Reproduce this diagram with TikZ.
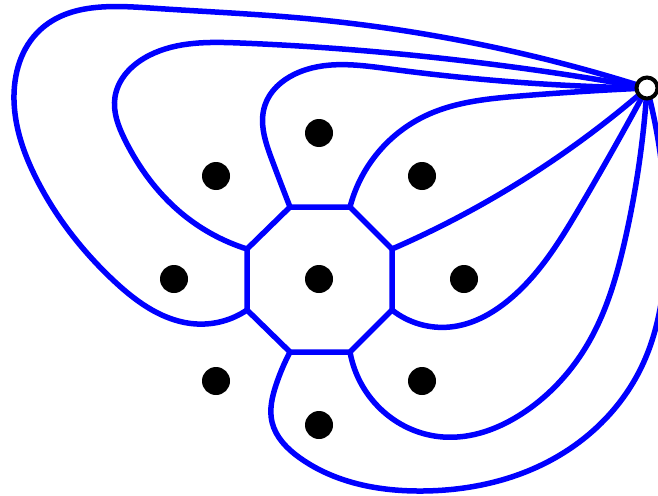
\documentclass[tikz,border=0pt]{standalone}
\usetikzlibrary{hobby}
\begin{document}
\begin{tikzpicture}[x=1pt,y=-1pt,
  edge/.style={draw=blue,line width=5.5pt,line join=round,line cap=round},
  dot/.style={circle,fill=black,inner sep=0pt,minimum size=28pt},
  sink/.style={circle,draw=black,fill=white,line width=4pt,inner sep=0pt,minimum size=21pt}]
\useasboundingbox (0,0) rectangle (658,495);
\clip (0,0) rectangle (658,495);
% octagon vertices
\coordinate (T1) at (290,207);
\coordinate (T2) at (350,207);
\coordinate (R1) at (392,249);
\coordinate (R2) at (392,310);
\coordinate (B2) at (350,352);
\coordinate (B1) at (290,352);
\coordinate (L2) at (247,310);
\coordinate (L1) at (247,249);
\coordinate (S) at (647,88);
% curves to the outer vertex
\draw[edge,use Hobby shortcut] (L2) .. (197,324) .. (113,280) .. (37,180) .. (14,100) .. (40,30) .. (150,8) .. (300,18) .. (S);
\draw[edge,use Hobby shortcut] (L1) .. (180,212) .. (125,140) .. (115,97) .. (150,55) .. (240,43) .. (400,54) .. (S);
\draw[edge,use Hobby shortcut] (T1) .. (272,160) .. (265,105) .. (295,74) .. (390,69) .. (S);
\draw[edge,use Hobby shortcut] (T2) .. (376,155) .. (425,116) .. (520,96) .. (S);
\draw[edge,use Hobby shortcut] (R1) .. (453,220) .. (575,145) .. (S);
\draw[edge,use Hobby shortcut] (R2) .. (450,327) .. (510,299) .. (580,207) .. (S);
\draw[edge,use Hobby shortcut] (B2) .. (385,413) .. (443,437) .. (523,413) .. (590,340) .. (625,240) .. (S);
\draw[edge,use Hobby shortcut] (B1) .. (276,385) .. (272,422) .. (300,458) .. (423,491) .. (560,455) .. (640,370) .. (666,240) .. (S);
% octagon
\draw[edge] (T1) -- (T2) -- (R1) -- (R2) -- (B2) -- (B1) -- (L2) -- (L1) -- cycle;
% dots
\node[dot] (c) at (319,279) {};
\node[dot] (n) at (319,133) {};
\node[dot] (nw) at (216,176) {};
\node[dot] (ne) at (422,176) {};
\node[dot] (w) at (174,279) {};
\node[dot] (e) at (464,279) {};
\node[dot] (sw) at (216,381) {};
\node[dot] (se) at (422,381) {};
\node[dot] (s) at (319,425) {};
\node[sink] (o) at (S) {};
\end{tikzpicture}
\end{document}
